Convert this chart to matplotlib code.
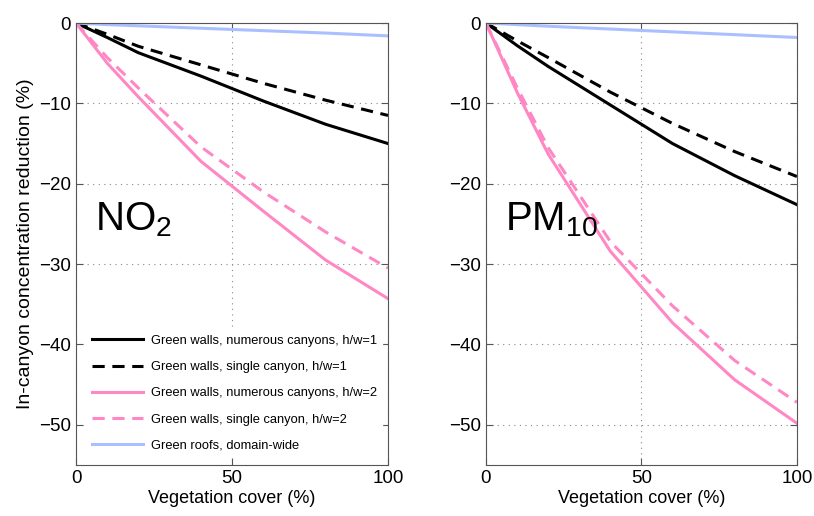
import numpy as np
import matplotlib
matplotlib.use("Agg")
import matplotlib.pyplot as plt

# vegetation cover (%)
cover = [0, 10, 20, 40, 60, 80, 100]

# NO2 reductions (%)
no2_walls_num_hw1 = [0, -1.8, -3.7, -6.6, -9.7, -12.6, -15.0]
no2_walls_single_hw1 = [0, -1.4, -2.9, -5.2, -7.5, -9.6, -11.5]
no2_walls_num_hw2 = [0, -5.0, -9.2, -17.2, -23.4, -29.5, -34.3]
no2_walls_single_hw2 = [0, -4.3, -8.1, -15.4, -21.0, -26.0, -30.5]
no2_roofs = [0, -0.2, -0.35, -0.65, -0.95, -1.25, -1.6]

# PM10 reductions (%)
pm_walls_num_hw1 = [0, -2.8, -5.4, -10.2, -15.0, -19.0, -22.6]
pm_walls_single_hw1 = [0, -2.2, -4.3, -8.6, -12.5, -16.0, -19.1]
pm_walls_num_hw2 = [0, -8.6, -16.3, -28.4, -37.3, -44.4, -49.8]
pm_walls_single_hw2 = [0, -8.0, -15.5, -27.2, -35.2, -42.0, -47.2]
pm_roofs = [0, -0.2, -0.4, -0.75, -1.1, -1.45, -1.8]

labels = ["Green walls, numerous canyons, h/w=1",
          "Green walls, single canyon, h/w=1",
          "Green walls, numerous canyons, h/w=2",
          "Green walls, single canyon, h/w=2",
          "Green roofs, domain-wide"]

pink = "#ff88c4"
blue = "#aabfff"
styles = [("black", "-"), ("black", "--"), (pink, "-"), (pink, "--"), (blue, "-")]

no2 = [no2_walls_num_hw1, no2_walls_single_hw1, no2_walls_num_hw2, no2_walls_single_hw2, no2_roofs]
pm = [pm_walls_num_hw1, pm_walls_single_hw1, pm_walls_num_hw2, pm_walls_single_hw2, pm_roofs]

plt.rcParams['font.family'] = ['Liberation Sans', 'DejaVu Sans']
plt.rcParams['mathtext.fontset'] = 'custom'
plt.rcParams['mathtext.rm'] = 'Liberation Sans'
plt.rcParams['mathtext.it'] = 'Liberation Sans'
plt.rcParams['mathtext.default'] = 'rm'

fig = plt.figure(figsize=(8.14, 5.16), dpi=100)
ax1 = fig.add_axes([0.0934, 0.0988, 0.3833, 0.8566])
ax2 = fig.add_axes([0.597, 0.0988, 0.382, 0.8566])

for ax, data, name in [(ax1, no2, "NO$_2$"), (ax2, pm, "PM$_{10}$")]:
    for vals, (c, ls), lab in zip(data, styles, labels):
        ax.plot(cover, vals, color=c, ls=ls, lw=2.2, label=lab,
                dashes=(4, 2.5) if ls == "--" else (None, None))
    ax.set_xlim(0, 100)
    ax.set_ylim(-55, 0)
    ax.set_xticks([0, 50, 100])
    ax.set_yticks([0, -10, -20, -30, -40, -50])
    ax.tick_params(direction="in", top=True, right=True, labelsize=13.5,
                   length=5, color="#555555")
    ax.grid(True, ls=(0, (1, 4)), color="#888888", lw=0.8)
    for s in ax.spines.values():
        s.set_color("#555555")
    ax.set_xlabel("Vegetation cover (%)", fontsize=13, labelpad=2)
    ax.text(0.06, 0.555, name, transform=ax.transAxes, fontsize=29,
            va="center", ha="left")

ax1.set_ylabel("In-canyon concentration reduction (%)", fontsize=14, labelpad=4)

leg = ax1.legend(loc="lower left", fontsize=9.3, frameon=True, framealpha=1,
                 edgecolor="white", handlelength=4.0, handletextpad=0.6,
                 labelspacing=1.1, bbox_to_anchor=(0.025, 0.012), borderaxespad=0.2)
leg.set_zorder(5)

fig.savefig("out.png", dpi=100)
